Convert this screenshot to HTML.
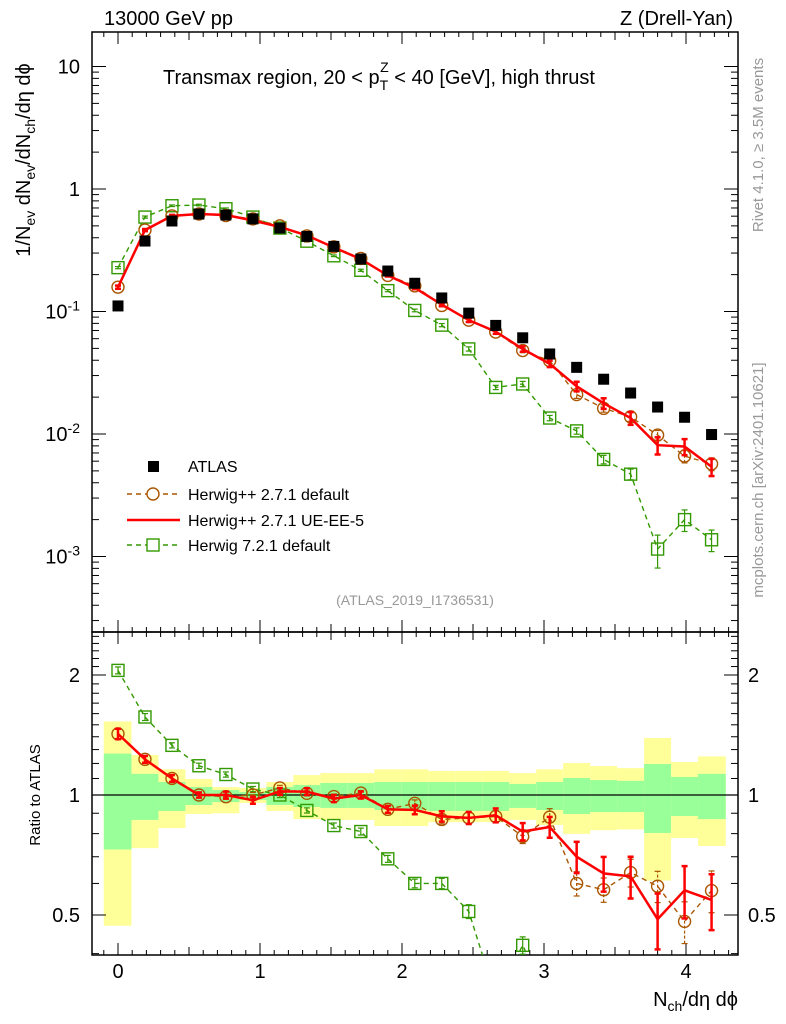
<!DOCTYPE html>
<html><head><meta charset="utf-8"><style>
html,body{margin:0;padding:0;background:#fff;width:786px;height:1024px;overflow:hidden;position:relative}
svg{display:block;font-family:"Liberation Sans",sans-serif}
</style></head><body>
<svg id="c" width="786" height="1024" viewBox="0 0 786 1024" style="position:absolute;left:0;top:0"></svg>
<script>
const xs=[0,0.19,0.38,0.57,0.76,0.95,1.14,1.33,1.52,1.71,1.9,2.09,2.28,2.47,2.66,2.85,3.04,3.23,3.42,3.61,3.8,3.99,4.18];
const atlas=[0.111,0.376,0.548,0.625,0.613,0.57,0.48,0.41,0.34,0.268,0.214,0.17,0.129,0.097,0.077,0.061,0.045,0.035,0.028,0.0216,0.0166,0.0137,0.0099];
const hwDef=[0.158,0.462,0.603,0.625,0.607,0.57,0.5,0.414,0.337,0.271,0.197,0.162,0.112,0.085,0.068,0.048,0.0396,0.021,0.0162,0.0138,0.0098,0.0066,0.0057];
const hwUE=[0.158,0.462,0.603,0.625,0.613,0.553,0.49,0.418,0.333,0.268,0.197,0.156,0.114,0.085,0.0685,0.0494,0.0374,0.0245,0.0178,0.0135,0.0081,0.0079,0.0054];
const hw72=[0.228,0.59,0.73,0.74,0.69,0.59,0.48,0.375,0.285,0.217,0.148,0.102,0.0774,0.0495,0.024,0.0256,0.0135,0.0106,0.0062,0.0047,0.00115,0.002,0.00137];
const errDef=[0.03,0.02,0.02,0.015,0.015,0.015,0.015,0.015,0.015,0.015,0.02,0.02,0.025,0.03,0.035,0.04,0.05,0.07,0.07,0.08,0.09,0.12,0.12];
const errUE=[0.03,0.02,0.02,0.015,0.02,0.02,0.02,0.02,0.02,0.02,0.02,0.025,0.03,0.035,0.04,0.05,0.06,0.09,0.1,0.12,0.16,0.15,0.16];
const err72=[0.02,0.02,0.015,0.015,0.015,0.015,0.015,0.015,0.015,0.02,0.02,0.025,0.03,0.04,0.04,0.05,0.05,0.06,0.08,0.1,0.3,0.2,0.2];
const totUp=[1.53,1.26,1.16,1.097,1.047,1.041,1.078,1.122,1.135,1.135,1.16,1.16,1.149,1.149,1.149,1.135,1.16,1.203,1.182,1.168,1.39,1.21,1.25];
const totLo=[0.47,0.736,0.826,0.896,0.9,0.955,0.912,0.87,0.866,0.866,0.836,0.836,0.855,0.855,0.855,0.866,0.841,0.799,0.816,0.82,0.61,0.78,0.745];
const statUp=[1.27,1.13,1.078,1.047,1.029,1.017,1.047,1.059,1.072,1.072,1.078,1.078,1.078,1.078,1.078,1.066,1.078,1.103,1.09,1.085,1.196,1.11,1.13];
const statLo=[0.73,0.866,0.912,0.944,0.96,0.972,0.944,0.933,0.928,0.928,0.917,0.917,0.912,0.912,0.912,0.928,0.917,0.896,0.906,0.906,0.803,0.886,0.87];
const xTicks=[0,1,2,3,4];
const yMainTicks=[10,1,0.1,0.01,0.001];
const yMainLabels=["10","1","10^-1","10^-2","10^-3"];
const yRatioTicks=[2,1,0.5];

const NS="http://www.w3.org/2000/svg";
const svg=document.getElementById('c');
function el(t,a,p){const e=document.createElementNS(NS,t);for(const k in a)e.setAttribute(k,a[k]);(p||svg).appendChild(e);return e;}
const L=92,R=738,T=32,M=632,B=955;
const X=v=>118+(v)*142;
const Ym=v=>189-Math.log10(v)*122.5;
const Yr=v=>795-Math.log2(v)*120;

const defs=el('defs',{});
const cp1=el('clipPath',{id:'cm'},defs);el('rect',{x:L,y:T,width:R-L,height:M-T},cp1);
const cp2=el('clipPath',{id:'cr'},defs);el('rect',{x:L,y:M,width:R-L,height:B-M},cp2);

const gb=el('g',{'clip-path':'url(#cr)'});


xs.forEach((x,i)=>{
  const x0=i===0?x-0.1:(x+xs[i-1])/2, x1=i===xs.length-1?x+0.1:(x+xs[i+1])/2;
  const r1=el('rect',{x:X(x0),width:X(x1)-X(x0),y:Yr(totUp[i]),height:Yr(totLo[i])-Yr(totUp[i]),fill:'#ffff99'},gb);
  
  
  const r2=el('rect',{x:X(x0),width:X(x1)-X(x0),y:Yr(statUp[i]),height:Yr(statLo[i])-Yr(statUp[i]),fill:'#99ff99'},gb);
  
  
});
el('line',{x1:L,x2:R,y1:Yr(1),y2:Yr(1),stroke:'#000','stroke-width':1.3});

const f1=el('rect',{x:L,y:T,width:R-L,height:M-T,fill:'none',stroke:'#000','stroke-width':1.5});

const f2=el('rect',{x:L,y:M,width:R-L,height:B-M,fill:'none',stroke:'#000','stroke-width':1.5});


for(let k=-1;k<=43;k++){const v=k/10,x=X(v);if(x<L||x>R)continue;const major=k%10===0,h=major?12:(k%5===0?8:5);
  [T,M].forEach(y0=>el('line',{x1:x,x2:x,y1:y0,y2:y0+h,stroke:'#000'}));
  [M,B].forEach(y0=>el('line',{x1:x,x2:x,y1:y0,y2:y0-h,stroke:'#000'}));
}
xTicks.forEach(v=>{const t=el('text',{x:X(v),y:978,'text-anchor':'middle','font-size':20});t.textContent=v;
  });
for(let d=-4;d<=1;d++)for(let m=1;m<10;m++){const v=m*Math.pow(10,d),y=Ym(v);if(y<T||y>M)continue;const h=m===1?14:7;
  el('line',{x1:L,x2:L+h,y1:y,y2:y,stroke:'#000'});el('line',{x1:R,x2:R-h,y1:y,y2:y,stroke:'#000'});}
yMainTicks.forEach((v,i)=>{const lab=yMainLabels[i];const t=el('text',{x:80,y:Ym(v)+7,'text-anchor':'end','font-size':20});
  if(lab.includes('^')){const [b,e]=lab.split('^');t.textContent=b;const s=el('tspan',{dy:-8,'font-size':14},t);s.textContent=e;}else t.textContent=lab;
  });
for(let v=0.4;v<=2.6;v+=0.1){const vv=Math.round(v*10)/10,y=Yr(vv);if(y<M||y>B)continue;const major=[0.5,1,2].includes(vv);const h=major?14:7;
  el('line',{x1:L,x2:L+h,y1:y,y2:y,stroke:'#000'});el('line',{x1:R,x2:R-h,y1:y,y2:y,stroke:'#000'});}
yRatioTicks.forEach(v=>{[[80,'end'],[748,'start']].forEach(([x,a])=>{const t=el('text',{x:x,y:Yr(v)+7,'text-anchor':a,'font-size':20});t.textContent=v;
  });});

function series(vals,err,opts,ratio){
  const g=el('g',{'clip-path':ratio?'url(#cr)':'url(#cm)'});
  
  
  const Y=ratio?(i=>Yr(vals[i]/atlas[i])):(i=>Ym(vals[i]));
  const Yv=ratio?(v,i)=>Yr(v/atlas[i]):(v)=>Ym(v);
  const pts=xs.map((x,i)=>X(x)+','+Y(i)).join(' ');
  if(opts.line)el('polyline',{points:pts,fill:'none',stroke:opts.color,'stroke-width':opts.w,'stroke-dasharray':opts.dash||'none'},g);
  xs.forEach((x,i)=>{const xp=X(x);const lo=Yv(vals[i]*(1-err[i]),i),hi=Yv(vals[i]*(1+err[i]),i);
    el('line',{x1:xp,x2:xp,y1:lo,y2:hi,stroke:opts.color,'stroke-width':opts.ew,'stroke-dasharray':opts.edash||'none'},g);
    el('line',{x1:xp-3,x2:xp+3,y1:lo,y2:lo,stroke:opts.color,'stroke-width':opts.ew},g);
    el('line',{x1:xp-3,x2:xp+3,y1:hi,y2:hi,stroke:opts.color,'stroke-width':opts.ew},g);
    const y=Y(i);let m;
    if(opts.marker==='circle')m=el('circle',{cx:xp,cy:y,r:6,fill:'none',stroke:opts.color,'stroke-width':1.4},g);
    else if(opts.marker==='osq')m=el('rect',{x:xp-6,y:y-6,width:12,height:12,fill:'none',stroke:opts.color,'stroke-width':1.4},g);
    if(m){}
  });
}
series(hw72,err72,{name:'herwig-721-default',color:'#339900',line:true,w:1.4,dash:'5,4',ew:1.2,marker:'osq'},false);
series(hwDef,errDef,{name:'herwigpp-271-default',color:'#aa5500',line:true,w:1.4,dash:'5,4',ew:1.2,edash:'3,2',marker:'circle'},false);
series(hwUE,errUE,{name:'herwigpp-271-ue-ee-5',color:'#ff0000',line:true,w:2.5,ew:2.5},false);
xs.forEach((x,i)=>{const r=el('rect',{x:X(x)-5.5,y:Ym(atlas[i])-5.5,width:11,height:11,fill:'#000'});
  });
series(hw72,err72,{name:'herwig-721-default',color:'#339900',line:true,w:1.4,dash:'5,4',ew:1.2,marker:'osq'},true);
series(hwDef,errDef,{name:'herwigpp-271-default',color:'#aa5500',line:true,w:1.4,dash:'5,4',ew:1.2,edash:'3,2',marker:'circle'},true);
series(hwUE,errUE,{name:'herwigpp-271-ue-ee-5',color:'#ff0000',line:true,w:2.5,ew:2.5},true);

const lg=el('g',{});
el('rect',{x:148,y:461,width:11,height:11,fill:'#000'},lg);
el('line',{x1:127,x2:180,y1:494,y2:494,stroke:'#aa5500','stroke-width':1.4,'stroke-dasharray':'5,4'},lg);
el('circle',{cx:153,cy:494,r:6,fill:'#fff',stroke:'#aa5500','stroke-width':1.4},lg);
el('line',{x1:127,x2:180,y1:520,y2:520,stroke:'#ff0000','stroke-width':2.5},lg);
el('line',{x1:127,x2:180,y1:545,y2:545,stroke:'#339900','stroke-width':1.4,'stroke-dasharray':'5,4'},lg);
el('rect',{x:147,y:539,width:12,height:12,fill:'#fff',stroke:'#339900','stroke-width':1.4},lg);
[['ATLAS',472],['Herwig++ 2.7.1 default',500],['Herwig++ 2.7.1 UE-EE-5',526],['Herwig 7.2.1 default',551]].forEach(([s,y])=>{
  const t=el('text',{x:188,y:y,'font-size':16},lg);t.textContent=s;});
</script>
<svg width="786" height="1024" style="position:absolute;left:0;top:0">
<text x="104" y="25" font-size="20" font-family="Liberation Sans">13000 GeV pp</text>
<text x="733" y="25" font-size="20" font-family="Liberation Sans" text-anchor="end">Z (Drell-Yan)</text>
<text x="163" y="84" font-size="20" font-family="Liberation Sans">Transmax region, 20 &lt; p<tspan dy="6" font-size="14">T</tspan><tspan dy="-18" dx="-8" font-size="14">Z</tspan><tspan dy="12"> &lt; 40 [GeV], high thrust</tspan></text>
<text x="415" y="605" font-size="14" font-family="Liberation Sans" fill="#999" text-anchor="middle">(ATLAS_2019_I1736531)</text>
<text transform="translate(763,145) rotate(-90)" font-size="15" font-family="Liberation Sans" fill="#999" text-anchor="middle">Rivet 4.1.0, ≥ 3.5M events</text>
<text transform="translate(763,480) rotate(-90)" font-size="15" font-family="Liberation Sans" fill="#999" text-anchor="middle">mcplots.cern.ch [arXiv:2401.10621]</text>
<text transform="translate(30,160) rotate(-90)" font-size="20" font-family="Liberation Sans" text-anchor="middle">1/N<tspan dy="5" font-size="14">ev</tspan><tspan dy="-5"> dN</tspan><tspan dy="5" font-size="14">ev</tspan><tspan dy="-5">/dN</tspan><tspan dy="5" font-size="14">ch</tspan><tspan dy="-5">/dη dϕ</tspan></text>
<text transform="translate(40,795) rotate(-90)" font-size="15" font-family="Liberation Sans" text-anchor="middle">Ratio to ATLAS</text>
<text x="738" y="1006" font-size="20" font-family="Liberation Sans" text-anchor="end">N<tspan dy="5" font-size="14">ch</tspan><tspan dy="-5">/dη dϕ</tspan></text>
</svg>
</body></html>
